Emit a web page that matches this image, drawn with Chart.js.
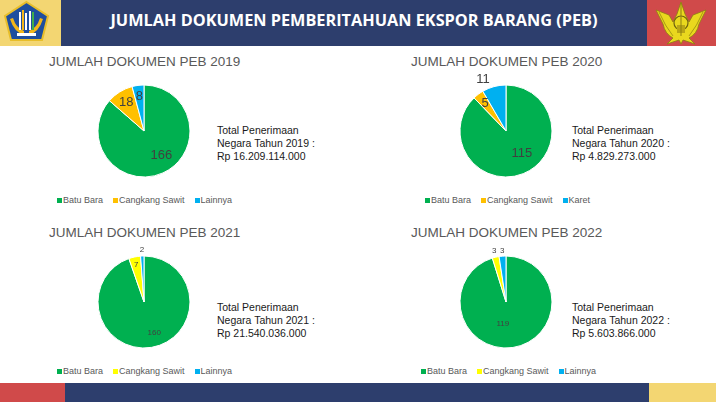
<!DOCTYPE html>
<html><head><meta charset="utf-8">
<script src="https://cdn.jsdelivr.net/npm/chart.js@4.4.0/dist/chart.umd.min.js"></script>
<style>
html,body{margin:0;padding:0;width:716px;height:402px;overflow:hidden;background:#fff;font-family:"Liberation Sans",Arial,sans-serif;}
#page{position:relative;width:716px;height:402px;}
.blk{position:absolute;}
.title{position:absolute;font-size:13.5px;color:#595959;white-space:nowrap;line-height:1;}
.info{position:absolute;font-size:10.5px;color:#1a1a1a;white-space:nowrap;line-height:13px;}
.legend{position:absolute;font-size:9px;color:#595959;white-space:nowrap;display:flex;align-items:center;line-height:1;}
.legend .it{display:flex;align-items:center;margin-right:10px;}
.legend .sq{width:5px;height:5px;margin-right:1px;}
canvas{position:absolute;}
#htitle{position:absolute;left:61px;width:586px;top:0;height:41px;line-height:41px;text-align:center;color:#fff;font-family:"Open Sans",sans-serif;font-weight:700;font-size:16.3px;}
</style></head>
<body><div id="page">
<div class="blk" style="left:0;top:0;width:61px;height:46px;background:#F3D672"></div>
<div class="blk" style="left:61px;top:0;width:586px;height:46px;background:#2D3E6D"></div>
<div class="blk" style="left:647px;top:0;width:69px;height:46px;background:#D04A4A"></div>
<div id="htitle">JUMLAH DOKUMEN PEMBERITAHUAN EKSPOR BARANG (PEB)</div>
<svg class="blk" style="left:0;top:0" width="61" height="46" viewBox="0 0 61 46">
  <polygon points="26.5,2 48,16 42,40 11,40 5,16" fill="#1E4E9E" stroke="#E8BE2A" stroke-width="2"/>
  <path d="M10,19 Q14,32 24,35 L24,31 Q16,28 13,18 Z" fill="#F2B619"/>
  <path d="M43,19 Q39,32 29,35 L29,31 Q37,28 40,18 Z" fill="#F2B619"/>
  <rect x="19" y="12" width="2" height="18" fill="#fff"/>
  <rect x="22" y="10" width="2" height="20" fill="#F2B619"/>
  <rect x="25" y="13" width="2" height="17" fill="#fff"/>
  <rect x="29" y="11" width="2" height="19" fill="#fff"/>
  <rect x="32" y="12" width="2" height="18" fill="#3FAE49"/>
  <rect x="17" y="33" width="19" height="3" fill="#fff"/>
</svg>
<svg class="blk" style="left:647px;top:0" width="69" height="46" viewBox="0 0 69 46">
  <path d="M9,10 L22,15 L26,22 L30,14 L34,2 L38,14 L42,22 L46,15 L59,10 L52,24 Q50,34 42,38 L48,44 L36,40 L34,44 L32,40 L20,44 L26,38 Q18,34 16,24 Z" fill="#E9D81E" stroke="#8C7F12" stroke-width="0.8"/>
  <path d="M12,12 Q18,26 26,36 M56,12 Q50,26 42,36" stroke="#A89A14" stroke-width="1" fill="none"/>
  <circle cx="34" cy="23" r="7" fill="#E9D81E" stroke="#6d6010" stroke-width="1.2"/>
  <rect x="30" y="25" width="8" height="8" fill="#B9A516"/>
  <line x1="34" y1="3" x2="34" y2="36" stroke="#8C7F12" stroke-width="1"/>
</svg>
<div class="blk" style="left:0;top:383px;width:65px;height:19px;background:#D04A4A"></div>
<div class="blk" style="left:65px;top:383px;width:584px;height:19px;background:#2D3E6D"></div>
<div class="blk" style="left:649px;top:383px;width:67px;height:19px;background:#F3D672"></div>
</div>
<script>
// ---- data ----
const years = ["2019", "2020", "2021", "2022"];
const categories2019 = ["Batu Bara", "Cangkang Sawit", "Lainnya"];
const values2019 = [166, 18, 8];
const categories2020 = ["Batu Bara", "Cangkang Sawit", "Karet"];
const values2020 = [115, 5, 11];
const categories2021 = ["Batu Bara", "Cangkang Sawit", "Lainnya"];
const values2021 = [160, 7, 2];
const categories2022 = ["Batu Bara", "Cangkang Sawit", "Lainnya"];
const values2022 = [119, 3, 3];
const revenue = ["Rp 16.209.114.000", "Rp 4.829.273.000", "Rp 21.540.036.000", "Rp 5.603.866.000"];

// ---- styles / layout ----
const colors2019 = ["#00B050", "#FFC000", "#00B0F0"];
const colors2020 = ["#00B050", "#FFC000", "#00B0F0"];
const colors2021 = ["#00B050", "#FFFF00", "#00B0F0"];
const colors2022 = ["#00B050", "#FFFF00", "#00B0F0"];
const panels = [
  {cats: categories2019, vals: values2019, colors: colors2019, cx: 144, cy: 131, titleX: 49, titleY: 55, infoX: 217, infoY: 124, legX: 57, legY: 196, fs: 13,
   place: [[0.65, -11], [0.73, 0], [0.76, 0]]},
  {cats: categories2020, vals: values2020, colors: colors2020, cx: 506, cy: 131, titleX: 411, titleY: 55, infoX: 572, infoY: 124, legX: 425, legY: 196, fs: 13,
   place: [[0.59, -14], [0.75, 0], [1.22, -9]]},
  {cats: categories2021, vals: values2021, colors: colors2021, cx: 144, cy: 302, titleX: 49, titleY: 226, infoX: 217, infoY: 301, legX: 57, legY: 367, fs: 8,
   place: [[0.70, -9], [0.83, 0], [1.13, 0]]},
  {cats: categories2022, vals: values2022, colors: colors2022, cx: 506, cy: 302, titleX: 411, titleY: 226, infoX: 572, infoY: 301, legX: 421, legY: 367, fs: 8,
   place: [[0.48, 17], [1.15, 0], [1.12, 0]]}
];
const CW = 180, CH = 150, R = 46;

const page = document.getElementById('page');

const labelPlugin = {
  id: 'sliceLabels',
  afterDatasetsDraw(chart, args, opts) {
    const ctx = chart.ctx;
    const meta = chart.getDatasetMeta(0);
    const vals = chart.data.datasets[0].data;
    ctx.save();
    ctx.font = opts.fs + 'px "Liberation Sans", Arial, sans-serif';
    ctx.fillStyle = '#404040';
    ctx.textAlign = 'center';
    ctx.textBaseline = 'middle';
    meta.data.forEach((arc, i) => {
      const p = arc.getProps(['x', 'y', 'startAngle', 'endAngle', 'outerRadius'], true);
      const pl = opts.place[i];
      const a = (p.startAngle + p.endAngle) / 2 + pl[1] * Math.PI / 180;
      const r = p.outerRadius * pl[0];
      ctx.fillText(String(vals[i]), p.x + Math.cos(a) * r, p.y + Math.sin(a) * r);
    });
    ctx.restore();
  }
};

panels.forEach((pn, k) => {
  const t = document.createElement('div');
  t.className = 'title';
  t.style.left = pn.titleX + 'px'; t.style.top = pn.titleY + 'px';
  t.textContent = 'JUMLAH DOKUMEN PEB ' + years[k];
  page.appendChild(t);

  const info = document.createElement('div');
  info.className = 'info';
  info.style.left = pn.infoX + 'px'; info.style.top = pn.infoY + 'px';
  info.innerHTML = 'Total Penerimaan<br>Negara Tahun ' + years[k] + ' :<br>' + revenue[k];
  page.appendChild(info);

  const lg = document.createElement('div');
  lg.className = 'legend';
  lg.style.left = pn.legX + 'px'; lg.style.top = pn.legY + 'px';
  pn.cats.forEach((c, i) => {
    const it = document.createElement('span'); it.className = 'it';
    const sq = document.createElement('span'); sq.className = 'sq'; sq.style.background = pn.colors[i];
    const tx = document.createElement('span'); tx.textContent = c;
    it.appendChild(sq); it.appendChild(tx); lg.appendChild(it);
  });
  page.appendChild(lg);

  const cv = document.createElement('canvas');
  cv.width = CW; cv.height = CH;
  cv.style.width = CW + 'px'; cv.style.height = CH + 'px';
  cv.style.left = (pn.cx - CW / 2) + 'px'; cv.style.top = (pn.cy - CH / 2) + 'px';
  page.appendChild(cv);

  new Chart(cv.getContext('2d'), {
    type: 'pie',
    data: {labels: pn.cats, datasets: [{data: pn.vals, backgroundColor: pn.colors, borderColor: '#ffffff', borderWidth: 1, radius: R}]},
    options: {
      responsive: false, animation: false, events: [],
      layout: {padding: 0},
      plugins: {legend: {display: false}, tooltip: {enabled: false}, title: {display: false},
        sliceLabels: {fs: pn.fs, place: pn.place}}
    },
    plugins: [labelPlugin]
  });
});
</script>
</body></html>
